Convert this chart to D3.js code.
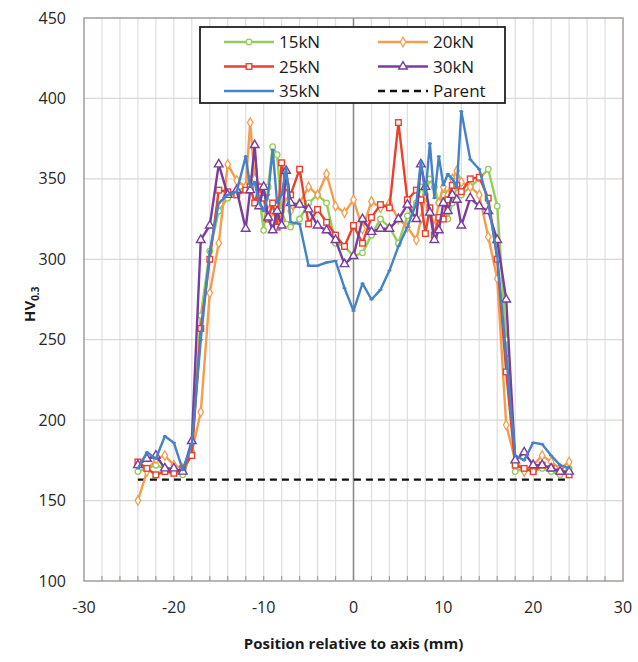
<!DOCTYPE html>
<html>
<head>
<meta charset="utf-8">
<script src="https://cdn.jsdelivr.net/npm/d3@7"></script>
<style>
  body { margin: 0; background: #fff; }
  svg { font-family: "Open Sans", "Noto Sans", sans-serif; }
</style>
</head>
<body>
<div class="chart"></div>
<script>
// positions along the weld (mm)
const positions = [-24,-23,-22,-21,-20,-19,-18,-17,-16,-15,-14,-13,-12,-11.5,-11,-10.5,-10,-9.5,-9,-8.5,-8,-7.5,-7,
  -6,-5,-4,-3,-2,-1,0,1,2,3,4,5,6,7,7.5,8,8.5,9,9.5,10,10.5,11,11.5,12,13,14,15,16,17,18,19,20,21,22,23,24];

const hv15 = [168,170,172,170,168,166,180,265,305,330,338,342,345,350,355,340,318,345,370,365,330,322,320,
  325,335,340,335,310,308,302,304,315,325,320,310,327,335,345,340,350,345,335,340,325,335,345,340,345,350,356,333,250,168,170,168,170,168,166,170];
const hv20 = [150,168,176,178,172,170,180,205,279,310,359,349,345,385,350,345,340,335,330,328,325,340,330,
  335,345,340,353,333,329,337,319,336,332,335,325,320,312,325,340,330,320,335,345,340,350,355,348,345,340,314,288,197,175,168,172,178,174,170,174];
const hv25 = [174,170,166,168,167,170,178,257,300,343,342,340,343,345,335,345,338,325,335,320,360,345,340,
  356,322,331,323,315,308,321,310,326,334,332,385,337,343,337,316,332,315,326,325,337,346,346,342,350,351,338,300,230,172,170,168,172,170,168,166];
const hv30 = [172,176,178,170,170,168,187,312,321,359,340,343,319,343,371,333,345,326,318,330,321,355,335,
  334,331,321,318,312,297,302,325,317,319,319,325,334,325,359,345,329,312,318,335,330,340,337,321,338,333,330,312,275,175,180,172,172,170,168,168];
const hv35 = [170,180,176,190,186,169,185,250,305,335,340,342,364,345,348,335,330,340,368,335,340,357,323,
  322,296,296,298,299,282,268,285,275,281,293,308,320,335,361,340,372,338,364,346,353,350,345,392,362,356,335,302,240,178,175,186,185,178,172,170];

const parentHV = 163;
const parentRange = [-24, 24];

const seriesNames = ['15kN','20kN','25kN','30kN','35kN'];
const seriesColors = ['#95cd5a','#f59d4c','#e9412c','#7a3c9e','#4582c6'];
const seriesMarkers = ['circle','diamond','square','triangle','dash'];
const seriesValues = [hv15, hv20, hv25, hv30, hv35];

const xTicks = [-30,-20,-10,0,10,20,30];
const yTicks = [100,150,200,250,300,350,400,450];

const width = 638, height = 662;
const margin = {left: 84, right: 15, top: 18, bottom: 81};

const svg = d3.select('.chart').append('svg')
  .attr('width', width)
  .attr('height', height);

const x = d3.scaleLinear().domain([-30, 30]).range([margin.left, width - margin.right]);
const y = d3.scaleLinear().domain([100, 450]).range([height - margin.bottom, margin.top]);

// grid
svg.append('g')
  .selectAll('line')
  .data(d3.range(-28, 30, 2))
  .enter().append('line')
  .attr('x1', d => x(d)).attr('x2', d => x(d))
  .attr('y1', y(450)).attr('y2', y(100))
  .attr('stroke', '#e3dde3')
  .attr('stroke-width', 1.3);

svg.append('g')
  .selectAll('line')
  .data(yTicks.slice(1, -1))
  .enter().append('line')
  .attr('x1', x(-30)).attr('x2', x(30))
  .attr('y1', d => y(d)).attr('y2', d => y(d))
  .attr('stroke', '#dcd6d6')
  .attr('stroke-width', 1.3);

// small tick marks along bottom
svg.append('g')
  .selectAll('line')
  .data(d3.range(-28, 30, 2))
  .enter().append('line')
  .attr('x1', d => x(d)).attr('x2', d => x(d))
  .attr('y1', y(100)).attr('y2', y(100) - 5)
  .attr('stroke', '#a49c9c')
  .attr('stroke-width', 1.2);

// vertical axis at zero
svg.append('line')
  .attr('x1', x(0)).attr('x2', x(0))
  .attr('y1', y(450)).attr('y2', y(100))
  .attr('stroke', '#8c8686')
  .attr('stroke-width', 1.5);

// plot frame
svg.append('rect')
  .attr('x', x(-30)).attr('y', y(450))
  .attr('width', x(30) - x(-30))
  .attr('height', y(100) - y(450))
  .attr('fill', 'none')
  .attr('stroke', '#a49c9c')
  .attr('stroke-width', 1.5);

// tick labels
svg.append('g')
  .selectAll('text')
  .data(yTicks)
  .enter().append('text')
  .attr('x', 66)
  .attr('y', d => y(d))
  .attr('dy', '0.35em')
  .attr('text-anchor', 'end')
  .attr('font-size', '16px')
  .attr('fill', '#262626')
  .text(d => d);

svg.append('g')
  .selectAll('text')
  .data(xTicks)
  .enter().append('text')
  .attr('x', d => x(d))
  .attr('y', 613)
  .attr('text-anchor', 'middle')
  .attr('font-size', '16px')
  .attr('fill', '#262626')
  .text(d => d);

// axis titles
svg.append('text')
  .attr('x', x(0))
  .attr('y', 649)
  .attr('text-anchor', 'middle')
  .attr('font-size', '15px')
  .attr('font-weight', 'bold')
  .attr('fill', '#1a1a1a')
  .text('Position relative to axis (mm)');

const yt = svg.append('text')
  .attr('transform', 'translate(35,' + y(272) + ') rotate(-90)')
  .attr('text-anchor', 'middle')
  .attr('font-size', '15px')
  .attr('font-weight', 'bold')
  .attr('fill', '#1a1a1a');
yt.append('tspan').text('HV');
yt.append('tspan').attr('font-size', '10px').attr('dy', '4').text('0.3');

// parent line
svg.append('line')
  .attr('x1', x(parentRange[0])).attr('x2', x(parentRange[1]))
  .attr('y1', y(parentHV)).attr('y2', y(parentHV))
  .attr('stroke', '#111')
  .attr('stroke-width', 2.4)
  .attr('stroke-dasharray', '7,5');

const line = d3.line()
  .x((d, i) => x(positions[i]))
  .y(d => y(d));

function drawMarker(g, type, color, cx, cy) {
  if (type == 'circle') {
    g.append('circle').attr('cx', cx).attr('cy', cy).attr('r', 2.8)
      .attr('fill', '#fff').attr('stroke', color).attr('stroke-width', 1.3);
  } else if (type == 'diamond') {
    g.append('path').attr('d', d3.symbol(d3.symbolDiamond, 26)())
      .attr('transform', 'translate(' + cx + ',' + cy + ')')
      .attr('fill', '#fff').attr('stroke', color).attr('stroke-width', 1.3);
  } else if (type == 'square') {
    g.append('rect').attr('x', cx - 2.8).attr('y', cy - 2.8).attr('width', 5.6).attr('height', 5.6)
      .attr('fill', '#fff').attr('stroke', color).attr('stroke-width', 1.4);
  } else if (type == 'triangle') {
    g.append('path').attr('d', d3.symbol(d3.symbolTriangle, 32)())
      .attr('transform', 'translate(' + cx + ',' + cy + ')')
      .attr('fill', '#fff').attr('stroke', color).attr('stroke-width', 1.4);
  } else {
    g.append('line').attr('x1', cx - 2).attr('x2', cx + 2).attr('y1', cy).attr('y2', cy)
      .attr('stroke', color).attr('stroke-width', 1.6);
  }
}

seriesValues.forEach((vals, s) => {
  const g = svg.append('g');
  g.append('path')
    .datum(vals)
    .attr('d', line)
    .attr('fill', 'none')
    .attr('stroke', seriesColors[s])
    .attr('stroke-width', 2.4)
    .attr('stroke-linejoin', 'round');
  vals.forEach((v, i) => drawMarker(g, seriesMarkers[s], seriesColors[s], x(positions[i]), y(v)));
});

// legend
const lg = svg.append('g');
lg.append('rect')
  .attr('x', 200).attr('y', 27)
  .attr('width', 305).attr('height', 76)
  .attr('fill', '#fff')
  .attr('stroke', '#222')
  .attr('stroke-width', 1.8);

const legendItems = seriesNames.map((n, i) => ({name: n, color: seriesColors[i], marker: seriesMarkers[i]}));
legendItems.push({name: 'Parent', color: '#111', marker: 'parent'});

legendItems.forEach((d, i) => {
  const col = i % 2, row = Math.floor(i / 2);
  const lx = col == 0 ? 224 : 378;
  const ly = 42 + row * 24.5;
  if (d.marker == 'parent') {
    lg.append('line').attr('x1', lx).attr('x2', lx + 50).attr('y1', ly).attr('y2', ly)
      .attr('stroke', d.color).attr('stroke-width', 2.4).attr('stroke-dasharray', '7,5');
  } else {
    lg.append('line').attr('x1', lx).attr('x2', lx + 50).attr('y1', ly).attr('y2', ly)
      .attr('stroke', d.color).attr('stroke-width', 2.4);
    drawMarker(lg, d.marker, d.color, lx + 25, ly);
  }
  lg.append('text')
    .attr('x', lx + 55)
    .attr('y', ly)
    .attr('dy', '0.36em')
    .attr('font-size', '17px')
    .attr('fill', '#1a1a1a')
    .text(d.name);
});
</script>
</body>
</html>
